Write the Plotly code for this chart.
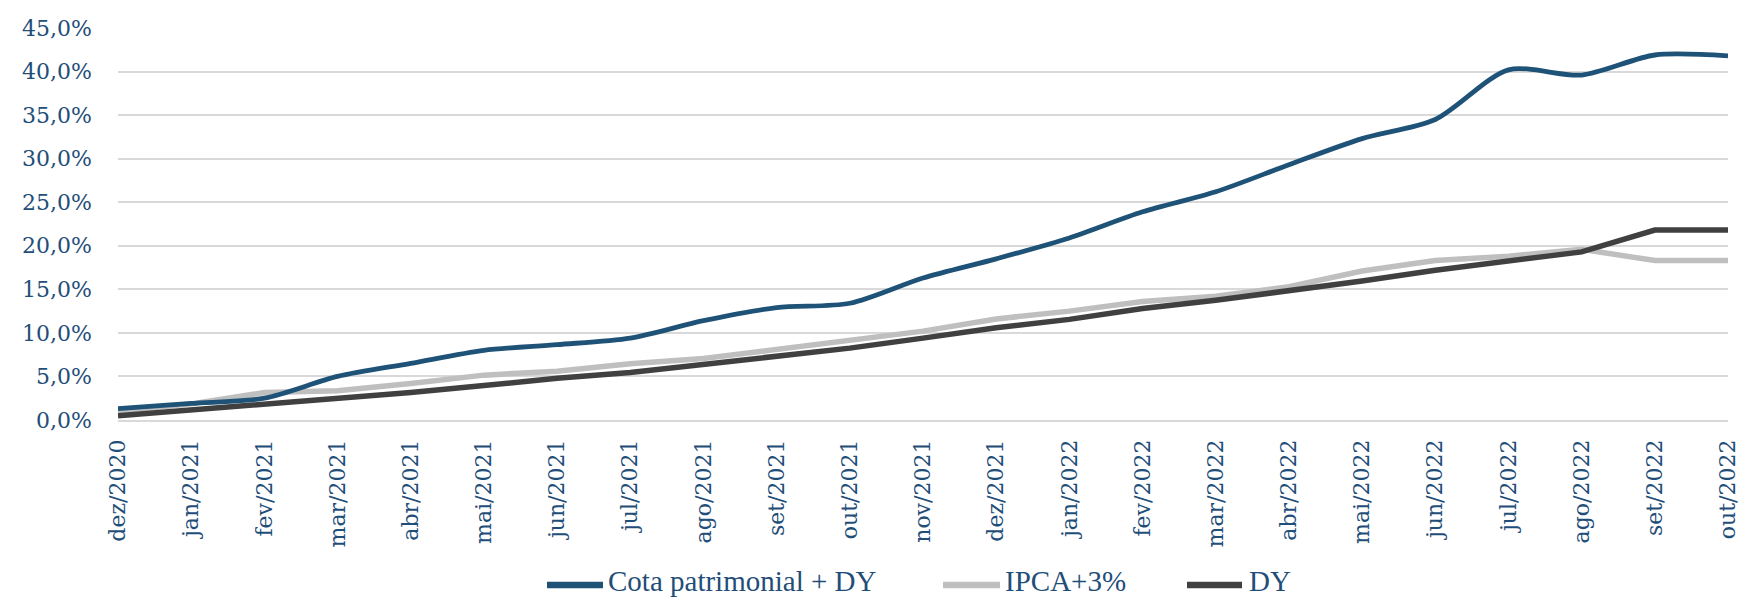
import plotly.graph_objects as go

categories = ["dez/2020", "jan/2021", "fev/2021", "mar/2021", "abr/2021", "mai/2021",
              "jun/2021", "jul/2021", "ago/2021", "set/2021", "out/2021", "nov/2021",
              "dez/2021", "jan/2022", "fev/2022", "mar/2022", "abr/2022", "mai/2022",
              "jun/2022", "jul/2022", "ago/2022", "set/2022", "out/2022"]

cota_dy = [1.3, 1.9, 2.5, 5.0, 6.5, 8.0, 8.65, 9.4, 11.4, 12.9, 13.4, 16.3, 18.5, 20.9,
           23.9, 26.2, 29.3, 32.3, 34.5, 40.2, 39.6, 41.9, 41.8]
ipca3 = [1.0, 1.85, 3.15, 3.35, 4.2, 5.15, 5.6, 6.45, 7.05, 8.1, 9.05, 10.2, 11.6, 12.5,
         13.6, 14.2, 15.3, 17.1, 18.3, 18.8, 19.6, 18.3, 18.3]
dy = [0.5, 1.15, 1.85, 2.5, 3.15, 3.95, 4.8, 5.45, 6.4, 7.3, 8.25, 9.4, 10.6, 11.55,
      12.8, 13.75, 14.8, 15.95, 17.2, 18.25, 19.3, 21.8, 21.8]

y_tickvals = [0, 5, 10, 15, 20, 25, 30, 35, 40, 45]
y_ticktext = ["0,0%", "5,0%", "10,0%", "15,0%", "20,0%", "25,0%", "30,0%", "35,0%", "40,0%", "45,0%"]

series_names = ["Cota patrimonial + DY", "IPCA+3%", "DY"]
series_colors = ["#1F5277", "#BFBFBF", "#404040"]

TEXT = "#1F4E79"
TICKFONT = dict(family="DejaVu Serif", size=22, color=TEXT)
LEGFONT = dict(family="Liberation Serif", size=29, color=TEXT)

W, H = 1739, 597
ML, MR, MT, MB = 118, 11, 28, 177
PW, PH = W - ML - MR, H - MT - MB

fig = go.Figure()
fig.add_trace(go.Scatter(x=categories, y=ipca3, name=series_names[1], mode="lines",
                         line=dict(color=series_colors[1], width=5.5)))
fig.add_trace(go.Scatter(x=categories, y=dy, name=series_names[2], mode="lines",
                         line=dict(color=series_colors[2], width=5.5)))
fig.add_trace(go.Scatter(x=categories, y=cota_dy, name=series_names[0], mode="lines",
                         line=dict(color=series_colors[0], width=4.8, shape="spline",
                                   smoothing=0.8)))

# custom legend (long line keys like the reference)
def px2paper(px, py):
    return (px - ML) / PW, (H - MB - py) / PH

legend_items = [(0, 547, 603, 606), (1, 943, 1000, 1003), (2, 1187, 1242, 1247)]
shapes, annotations = [], []
for idx, x0, x1, xt in legend_items:
    a0, b = px2paper(x0, 585)
    a1, _ = px2paper(x1, 585)
    shapes.append(dict(type="line", xref="paper", yref="paper", x0=a0, x1=a1, y0=b, y1=b,
                       line=dict(color=series_colors[idx], width=6.5)))
    at, bt = px2paper(xt, 581)
    annotations.append(dict(text=series_names[idx], xref="paper", yref="paper", x=at, y=bt,
                            xanchor="left", yanchor="middle", showarrow=False, font=LEGFONT))

fig.update_layout(
    width=W, height=H,
    margin=dict(l=ML, r=MR, t=MT, b=MB),
    paper_bgcolor="white", plot_bgcolor="white",
    showlegend=False,
    shapes=shapes,
    annotations=annotations,
    xaxis=dict(type="category", range=[0, len(categories) - 1], tickangle=-90,
               tickfont=TICKFONT, showgrid=False, showline=True, linecolor="#D9D9D9",
               linewidth=1.5, ticks="", ticklabelstandoff=9, automargin=False),
    yaxis=dict(range=[0, 45], tickvals=y_tickvals, ticktext=y_ticktext, tickfont=TICKFONT,
               showgrid=True, gridcolor="#D9D9D9", gridwidth=1.5, zeroline=False,
               showline=False, ticks="", ticklabelstandoff=25, automargin=False),
)

fig.write_html("out.html", config={"displayModeBar": False},
               post_script="document.body.style.margin='0';document.body.style.overflow='hidden';")
